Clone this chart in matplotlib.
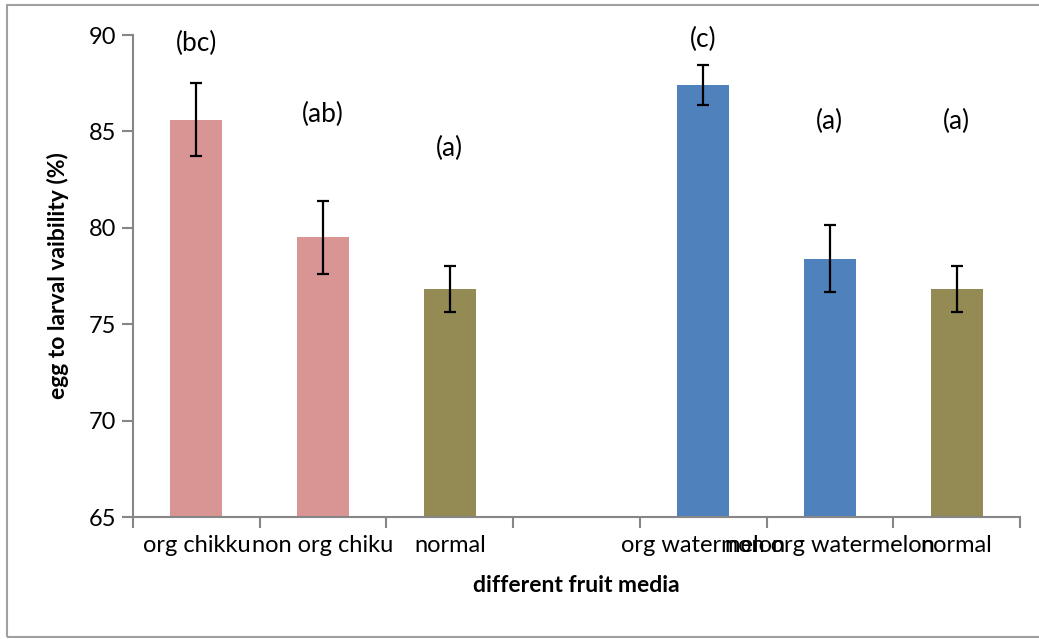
import matplotlib
matplotlib.use("Agg")
import matplotlib.pyplot as plt
from matplotlib.patches import Rectangle
import numpy as np

plt.rcParams['font.family'] = ['Lato', 'DejaVu Sans']

categories = ["org chikku", "non org chiku", "normal", "", "org watermelon", "non org watermelon", "normal"]
values = [85.6, 79.5, 76.83, np.nan, 87.4, 78.4, 76.83]
errors = [1.9, 1.9, 1.2, np.nan, 1.05, 1.75, 1.2]
letters = ["(bc)", "(ab)", "(a)", "", "(c)", "(a)", "(a)"]
letter_y = [89.55, 85.9, 84.1, np.nan, 89.75, 85.5, 85.5]
colors = ["#D99594", "#D99594", "#948A54", "#FFFFFF", "#4F81BD", "#4F81BD", "#948A54"]

W, H = 1039, 639
fig = plt.figure(figsize=(W / 100, H / 100), dpi=100)
ax = fig.add_axes([133 / W, 1 - 517 / H, (1020 - 133) / W, (517 - 35) / H])

x = np.arange(len(categories))
for i in range(len(categories)):
    if np.isnan(values[i]):
        continue
    ax.bar(x[i], values[i] - 65, bottom=65, width=0.41, color=colors[i], zorder=2)
    ax.errorbar(x[i], values[i], yerr=errors[i], fmt='none', ecolor='black',
                elinewidth=1.6, capsize=4.5, capthick=1.6, zorder=3)
    ax.text(x[i], letter_y[i], letters[i], ha='center', va='center', fontsize=19, color='black')

ax.set_xlim(-0.5, len(categories) - 0.5)
ax.set_ylim(65, 90)
ax.set_yticks([65, 70, 75, 80, 85, 90])
ax.set_xticks(np.arange(-0.5, len(categories), 1.0))
ax.set_xticklabels([])
ax.set_xticks(x, minor=True)
ax.set_xticklabels(categories, minor=True, fontsize=17)
ax.tick_params(axis='x', which='minor', length=0, pad=13)
ax.tick_params(axis='x', which='major', length=8, width=1.5, color='#868686', direction='out')
ax.tick_params(axis='y', length=8, width=1.5, color='#868686', direction='out', labelsize=17, pad=4)

for s in ['top', 'right']:
    ax.spines[s].set_visible(False)
for s in ['left', 'bottom']:
    ax.spines[s].set_color('#868686')
    ax.spines[s].set_linewidth(1.5)

ax.set_ylabel("egg to larval vaibility (%)", fontsize=16.5, fontweight='bold', labelpad=14)
ax.set_xlabel("different fruit media", fontsize=16.5, fontweight='bold', labelpad=14)

fig.patches.append(Rectangle((7 / W, 1 - 637 / H), 1.2, (637 - 5) / H, transform=fig.transFigure,
                             fill=False, edgecolor='#A0A0A0', linewidth=1.5))

fig.savefig("out.png", dpi=100)
